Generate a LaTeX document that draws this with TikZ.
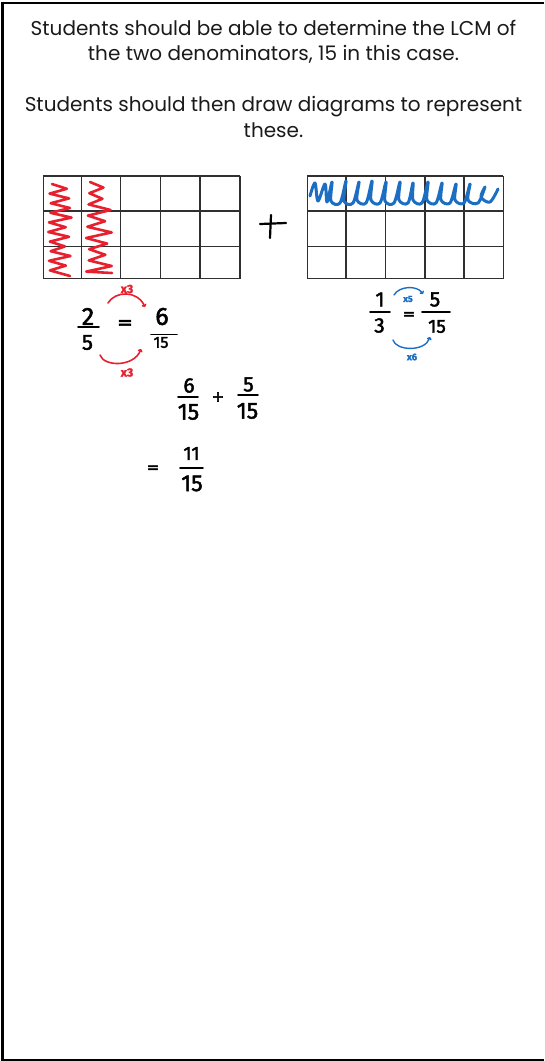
\documentclass[tikz,border=0pt]{standalone}
\usepackage{fontspec}
\setmainfont{Poppins}
\newfontfamily\hand{Fira Sans}[FakeBold=2]
\newfontfamily\handsym{DejaVu Sans}[FakeBold=3]
\usetikzlibrary{arrows.meta}
\definecolor{penred}{HTML}{E8202E}
\definecolor{penblue}{HTML}{1B6EC2}
\definecolor{gridc}{HTML}{303030}
\definecolor{txt}{HTML}{1A1A1A}
\tikzset{
  gridline/.style={draw=gridc, line width=1.2pt},
  scrib/.style={line width=2.6pt, line cap=round, line join=round},
  para/.style={align=center, text=txt, font=\fontsize{20}{25.5}\selectfont, inner sep=0pt},
  dig/.style={inner sep=0pt, text=black, font=\hand\fontsize{#1}{#1}\selectfont},
  sym/.style={inner sep=0pt, text=black, font=\handsym\fontsize{#1}{#1}\selectfont},
  fbar/.style={draw=black, line width=1.8pt, line cap=round},
  lbl/.style={inner sep=0pt, font=\hand\bfseries\fontsize{#1}{#1}\selectfont},
  harrow/.style={line width=1.6pt, line cap=round, -{To[length=3pt,width=5pt]}},
}
\begin{document}
\begin{tikzpicture}[x=1pt,y=-1pt]
\useasboundingbox (0,0) rectangle (544,1061);
% frame
\draw[line width=2.2pt] (544,2.6) -- (2.5,2.6) -- (2.5,1059.6) -- (544,1059.6);
% paragraph text
\node[para] (t1) at (273.5,42) {Students should be able to determine the LCM of\\the two denominators, 15 in this case.};
\node[para] (t2) at (273.5,117) {Students should then draw diagrams to represent\\these.};
% left grid
\foreach \x in {43.3,81.7,120.7,160.7,200,240} \draw[gridline] (\x,176) -- (\x,278.5);
\foreach \y in {176,211,246.5,278.5} \draw[gridline] (43.3,\y) -- (240,\y);
% right grid
\foreach \x in {307.3,346,385.3,425,464,503.3} \draw[gridline] (\x,176) -- (\x,278.5);
\foreach \y in {176,211,246.5,278.5} \draw[gridline] (307.3,\y) -- (503.3,\y);
% red scribbles
\pgfmathsetseed{11}
\draw[scrib, draw=penred] (52,184) \foreach \i in {1,...,18} { -- ({ifthenelse(isodd(\i),64+8*rnd,48+4*rnd)},{184+4.8*\i}) } -- (70,276);
\draw[scrib, draw=penred] (90,182) \foreach \i in {1,...,16} { -- ({ifthenelse(isodd(\i),102+10*rnd,86+4*rnd)},{182+5.6*\i}) } -- (112,273);
% blue scribble
\draw[scrib, draw=penblue, line width=3pt] plot[smooth, tension=0.55] coordinates {
 (310,196) (315,183) (318,201) (325,184) (327,202) (332,182) (331,201) (340,203) (346,181)
 (344,201) (353,203) (359,182) (357,200) (366,203) (372,181) (371,200) (380,203) (386,182)
 (385,201) (394,203) (400,182) (399,200) (408,203) (413,183) (413,200) (422,203) (428,182)
 (427,200) (436,203) (442,183) (441,200) (450,203) (456,184) (455,200) (464,203) (470,184)
 (468,200) (478,203) (485,187) (481,197) (490,202) (498,189)};
% plus between grids
\draw[line width=2.2pt, line cap=round] (260,224) -- (286,223);
\draw[line width=2.2pt, line cap=round] (271,215) -- (270,238);
% left equation 2/5 = 6/15
\node[dig=25] (n2) at (88,316.5) {2};
\draw[fbar] (78,327) -- (99,327);
\node[dig=22] (d5) at (87.5,342.5) {5};
\node[sym=19] (eqL) at (125,324.5) {=};
\node[dig=25] (n6) at (162,316.5) {6};
\draw[fbar] (151,334.5) -- (177,334.5);
\node[dig=16] (d15) at (161,342.5) {15};
\coordinate (ra1) at (108,303);
\coordinate (ra2) at (145,307);
\coordinate (rb1) at (100,355);
\coordinate (rb2) at (141,349);
\draw[harrow, draw=penred] (ra1) .. controls (115,291) and (137,290) .. (ra2);
\draw[harrow, draw=penred] (rb1) .. controls (104,367) and (134,367) .. (rb2);
\node[lbl=12, text=penred] (x3a) at (127,289) {x3};
\node[lbl=12, text=penred] (x3b) at (127,372.5) {x3};
% right equation 1/3 = 5/15
\node[dig=21] (n1) at (380,299.5) {1};
\draw[fbar] (370,312) -- (390,312);
\node[dig=21] (d3) at (379.5,325.5) {3};
\node[sym=15] (eqR) at (409,315.5) {=};
\node[dig=21] (n5) at (435,299.5) {5};
\draw[fbar] (422,312) -- (450,312);
\node[dig=19] (d15r) at (437,326.5) {15};
\coordinate (ba1) at (394,295);
\coordinate (ba2) at (423,294);
\coordinate (bb1) at (393,340);
\coordinate (bb2) at (430,337);
\draw[harrow, draw=penblue, line width=1.4pt] (ba1) .. controls (399,286) and (417,285) .. (ba2);
\draw[harrow, draw=penblue, line width=1.4pt] (bb1) .. controls (396,351) and (425,352) .. (bb2);
\node[lbl=9, text=penblue] (x5) at (408,299) {x5};
\node[lbl=9.5, text=penblue] (x6) at (412,357) {x6};
% 6/15 + 5/15
\node[dig=21] (m6) at (189,385.5) {6};
\draw[fbar] (178,397) -- (198,397);
\node[dig=23] (m15a) at (188.5,412) {15};
\node[sym=15] (plus) at (218,397) {+};
\node[dig=21] (m5) at (248.5,384.5) {5};
\draw[fbar] (238,395) -- (258,395);
\node[dig=23] (m15b) at (247.5,411) {15};
% = 11/15
\node[sym=15] (eqB) at (153,469) {=};
\node[dig=19] (n11) at (191.5,453.5) {11};
\draw[fbar] (180,468) -- (203,468);
\node[dig=23] (d15b) at (192,483.5) {15};
\end{tikzpicture}
\end{document}
